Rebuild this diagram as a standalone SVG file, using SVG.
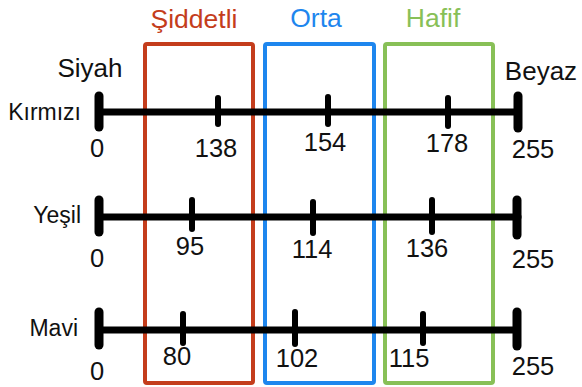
<svg xmlns="http://www.w3.org/2000/svg" width="582" height="387" viewBox="0 0 582 387">
<style>
text{font-family:"Liberation Sans",Arial,sans-serif;fill:#111}
.lbl{font-size:25.5px;text-anchor:middle}
.row{font-size:23px;text-anchor:end}
.end{font-size:26px;text-anchor:middle}
.title{font-size:26.5px;text-anchor:middle}
.box{fill:none;stroke-width:4}
.axis{stroke:#000;stroke-width:7;stroke-linecap:round}
.cap{stroke:#000;stroke-width:9;stroke-linecap:round}
.tick{stroke:#000;stroke-width:6;stroke-linecap:round}
</style>
<rect width="582" height="387" fill="#fff"/>
<g id="severe">
<rect class="box" x="145" y="44" width="108" height="339" rx="2" stroke="#c43d1c"/>
<text class="title" x="194" y="28" style="fill:#c43d1c">Şiddetli</text>
</g>
<g id="medium">
<rect class="box" x="265" y="44" width="109" height="339" rx="2" stroke="#1e86ee"/>
<text class="title" x="316" y="27" style="fill:#1e86ee">Orta</text>
</g>
<g id="light">
<rect class="box" x="385" y="44" width="108" height="339" rx="2" stroke="#88c057"/>
<text class="title" x="433" y="27" style="fill:#88c057">Hafif</text>
</g>
<g id="ends">
<text class="end" x="90" y="77">Siyah</text>
<text class="end" x="541" y="80">Beyaz</text>
</g>
<g id="connectors">
<line class="axis" x1="99" y1="112" x2="518" y2="112"/>
<line class="cap" x1="99" y1="96" x2="99" y2="127"/>
<line class="cap" x1="518" y1="96" x2="518" y2="128"/>
<line class="tick" x1="218" y1="98" x2="218" y2="124"/>
<line class="tick" x1="328" y1="97" x2="328" y2="124"/>
<line class="tick" x1="448" y1="98" x2="448" y2="126"/>
<line class="axis" x1="99" y1="217" x2="518" y2="217"/>
<line class="cap" x1="99" y1="200" x2="99" y2="232"/>
<line class="cap" x1="517" y1="200" x2="517" y2="235"/>
<line class="tick" x1="192" y1="200" x2="192" y2="229"/>
<line class="tick" x1="313" y1="202" x2="313" y2="233"/>
<line class="tick" x1="432" y1="200" x2="432" y2="232"/>
<line class="axis" x1="99" y1="330" x2="517" y2="330"/>
<line class="cap" x1="99" y1="312" x2="99" y2="345"/>
<line class="cap" x1="517" y1="312" x2="517" y2="346"/>
<line class="tick" x1="183" y1="314" x2="183" y2="343"/>
<line class="tick" x1="295" y1="312" x2="295" y2="344"/>
<line class="tick" x1="423" y1="314" x2="423" y2="343"/>
</g>
<g id="red">
<text class="row" x="81" y="120">Kırmızı</text>
<text class="lbl" x="97" y="157">0</text>
<text class="lbl" x="216" y="157">138</text>
<text class="lbl" x="325" y="151">154</text>
<text class="lbl" x="447" y="152">178</text>
<text class="lbl" x="533" y="158">255</text>
</g>
<g id="green">
<text class="row" x="81" y="223">Yeşil</text>
<text class="lbl" x="97" y="267">0</text>
<text class="lbl" x="190" y="255">95</text>
<text class="lbl" x="312" y="258">114</text>
<text class="lbl" x="427" y="257">136</text>
<text class="lbl" x="533" y="268">255</text>
</g>
<g id="blue">
<text class="row" x="78" y="336">Mavi</text>
<text class="lbl" x="97" y="380">0</text>
<text class="lbl" x="177" y="365">80</text>
<text class="lbl" x="297" y="367">102</text>
<text class="lbl" x="409" y="367">115</text>
<text class="lbl" x="533" y="375">255</text>
</g>
</svg>
